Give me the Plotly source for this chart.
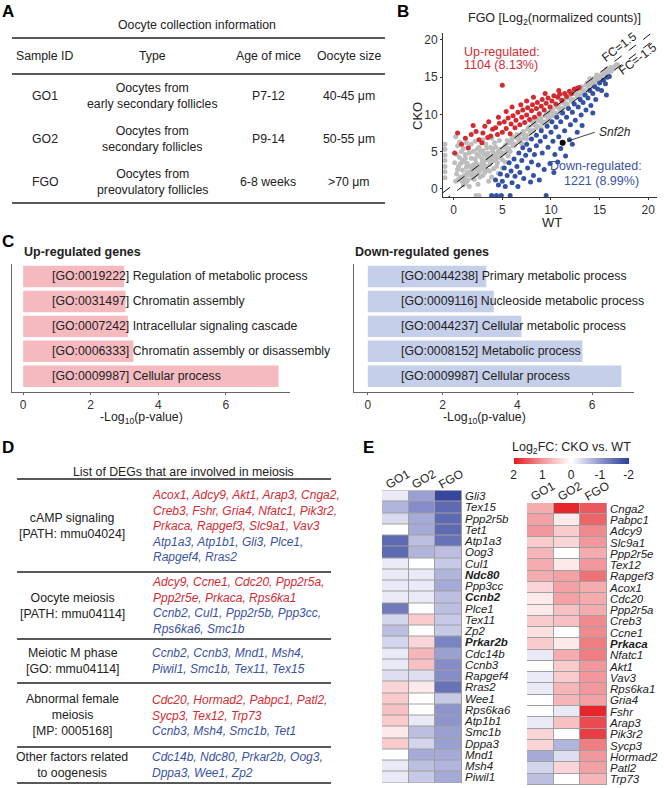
import math

import plotly.graph_objects as go

W, H = 664, 788
FONT = "Liberation Sans, Arial, sans-serif"
INK = "#222222"
RED_TXT = "#D42A32"
BLUE_TXT = "#3A52A2"

# ---------------- Panel A: oocyte collection table
a_header = ["Sample ID", "Type", "Age of mice", "Oocyte size"]
a_sample = ["GO1", "GO2", "FGO"]
a_type = [
    "Oocytes from<br>early secondary follicles",
    "Oocytes from<br>secondary follicles",
    "Oocytes from<br>preovulatory follicles",
]
a_age = ["P7-12", "P9-14", "6-8 weeks"]
a_size = ["40-45 μm", "50-55 μm", ">70 μm"]

# ---------------- Panel B: CKO vs WT scatter (log2 normalized counts)
gray_x = [1.0, 1.3, 1.6, 1.9, 2.2, 2.5, 2.8, 3.1, 3.4, 3.7, 4.0, 4.3, 4.6, 4.9, 5.2, 5.5, 5.8, 6.1,
          6.4, 6.7, 7.0, 7.3, 7.6, 7.9, 8.2, 8.5, 8.8, 9.1, 9.4, 9.7, 10.0, 10.3, 10.6, 10.9, 11.2,
          11.5, 11.8, 12.1, 12.4, 12.7, 13.0, 13.3, 13.6, 13.9, 14.2, 14.5, 14.8, 15.1, 15.4, 15.7,
          16.0, 16.3, 16.6, 16.9,
          0.85, 1.15, 1.45, 1.75, 2.05, 2.35, 2.65, 2.95, 3.25, 3.55, 3.85, 4.15, 4.45, 4.75, 5.05,
          5.35, 5.65, 5.95, 6.25, 6.55, 6.85, 7.15, 7.45, 7.75, 8.05, 8.35, 8.65, 8.95, 9.25, 9.55,
          9.85, 10.15, 10.45, 10.75, 11.05, 11.35, 11.65, 11.95, 12.25, 12.55, 12.85, 13.15, 13.45,
          13.75, 14.05, 14.35, 14.65, 14.95, 15.25, 15.55, 15.85, 16.15, 16.45, 16.75,
          1.2, 2.2, 3.2, 4.2, 5.2, 6.2, 7.2, 8.2, 9.2, 10.2, 11.2, 12.2, 13.2, 14.2, 15.2, 16.2,
          1.7, 2.7, 3.7, 4.7, 5.7, 6.7, 7.7, 8.7, 9.7, 10.7, 11.7, 12.7, 13.7, 14.7, 15.7,
          2.0, 3.0, 4.0, 5.0, 6.0, 7.0, 8.0, 9.0, 10.0, 11.0, 12.0, 13.0, 14.0, 15.0, 6.5, 8.7, 9.6,
          11.7, 12.6, 3.5, 4.5, 5.5, 7.5, 10.5, 13.5, 14.7,
          0.3, 0.5, 0.6, 0.8, 0.9, 1.1, 1.2, 1.4, 1.5, 1.7, 1.8, 2.0, 2.1, 2.3, 2.4, 2.6, 2.7, 2.9,
          3.0, 3.2, 3.3, 3.5, 3.6, 3.8, 4.1, 4.2, 4.4, 4.7, 0.2, 0.7, 1.0, 0.4, 1.3, 2.2, 0.2, 1.6,
          0.1, 5.0, 4.8, 3.9, 2.5,
          0.5, 0.9, 1.1, 1.3, 1.6, 1.9, 2.2, 2.5, 2.8, 3.1, 3.4, 3.7, 4.0, 4.3, 4.6, 0.6, 1.0, 1.4,
          1.8, 2.0, 2.4, 2.9, 3.1, 3.4, 3.8, 4.5, 5.3, 5.6, 0.3, 0.7, 1.2, 2.6, 3.0, 3.9, 0.4, 5.8,
          -0.9, -0.9, -0.9, -0.9, -0.9, -0.9, -0.9, 2.3, 2.6]
gray_y = [1.3, 0.9, 1.9, 1.5, 2.6, 2.1, 3.2, 2.7, 3.9, 3.3, 4.4, 3.9, 5.0, 4.6, 5.6, 5.1, 6.3, 5.8,
          6.9, 6.4, 7.4, 7.0, 8.0, 7.6, 8.6, 8.2, 9.2, 8.8, 9.8, 9.4, 10.4, 10.0, 11.0, 10.6, 11.6,
          11.2, 12.2, 11.8, 12.8, 12.4, 13.4, 13.0, 13.9, 13.6, 14.5, 14.2, 15.0, 14.8, 15.5, 15.4,
          16.0, 16.1, 16.5, 16.6,
          1.0, 1.6, 1.2, 2.3, 1.8, 2.9, 2.4, 3.5, 3.0, 4.1, 3.6, 4.7, 4.2, 5.3, 4.8,
          5.9, 5.4, 6.5, 6.0, 7.1, 6.6, 7.7, 7.2, 8.3, 7.8, 8.9, 8.4, 9.5, 9.0, 10.1,
          9.6, 10.7, 10.2, 11.3, 10.8, 11.9, 11.4, 12.5, 12.0, 13.1, 12.6, 13.7, 13.2,
          14.2, 13.9, 14.8, 14.5, 15.2, 15.1, 15.7, 15.6, 16.3, 16.2, 16.7,
          0.7, 1.9, 2.8, 3.8, 4.8, 5.8, 6.8, 7.8, 8.8, 9.8, 10.8, 11.8, 12.8, 13.8, 14.8, 15.8,
          2.3, 3.2, 4.3, 5.2, 6.2, 7.2, 8.2, 9.2, 10.2, 11.2, 12.2, 13.2, 14.2, 15.1, 16.1,
          3.2, 1.8, 5.3, 3.9, 7.0, 6.1, 9.1, 8.1, 11.0, 10.2, 12.9, 12.3, 14.8, 14.4, 7.3, 9.5, 8.9,
          11.0, 13.3, 2.5, 3.5, 6.5, 6.7, 9.8, 12.9, 15.3,
          2.0, 3.0, 4.2, 5.0, 2.5, 3.6, 4.6, 2.2, 5.4, 3.0, 4.1, 5.0, 1.3, 3.5, 4.6, 5.6, 1.6, 4.0,
          5.1, 2.2, 6.0, 4.8, 1.0, 5.6, 2.7, 6.2, 3.0, 6.5, 1.0, 1.6, 0.5, 5.8, 6.2, 6.4, 7.0, 0.3,
          3.5, 2.8, 4.2, 1.6, 0.6,
          1.3, 3.8, 1.8, 2.9, 4.8, 2.4, 4.0, 3.0, 5.0, 3.6, 4.3, 2.4, 5.0, 5.6, 2.1, 6.3, 5.4, 3.4,
          6.0, 2.9, 5.3, 2.9, 4.6, 5.5, 4.0, 4.8, 3.6, 4.4, 4.6, 3.4, 4.1, 4.4, 6.6, 6.8, 2.6, 5.0,
          1.5, 2.3, 3.0, 3.8, 4.5, 5.3, 6.0, -0.9, -0.9]
up_x = [0.1, 0.4, 1.2, 1.8, 2.3, 2.6, 3.0, 3.2, 3.5, 3.8, 4.0, 4.3, 4.5, 4.7, 5.0, 5.0, 5.2, 5.4,
        5.6, 5.8, 5.9, 6.1, 6.3, 6.4, 6.6, 6.8, 7.0, 7.1, 7.3, 7.5, 7.6, 7.8, 8.0, 8.1, 8.3, 8.5,
        8.6, 8.8, 9.0, 9.1, 9.3, 9.5, 9.7, 9.9, 10.1, 10.3, 10.5, 10.7, 10.9, 11.1, 11.4, 11.6,
        11.9, 12.1, 12.4, 12.7, 12.9, 3.6, 2.0, 6.0, 7.5, 4.6, 9.4, 5.4, 8.2, 6.9, 10.8, 1.5, 2.9,
        0.8]
up_y = [4.8, 7.5, 6.8, 7.3, 7.7, 6.6, 7.5, 8.4, 6.9, 7.1, 8.0, 8.2, 7.3, 8.8, 7.6, 13.9, 9.0, 8.1,
        9.5, 7.4, 8.7, 9.8, 8.2, 9.2, 10.3, 8.6, 9.6, 10.6, 8.9, 9.9, 10.9, 9.3, 10.5, 11.3, 9.6,
        10.8, 11.6, 10.1, 11.1, 12.0, 10.6, 11.5, 12.2, 11.0, 11.8, 12.5, 11.4, 12.3, 12.7, 11.9,
        12.8, 12.4, 13.1, 12.8, 13.4, 13.5, 13.6, 9.0, 8.5, 11.0, 11.8, 9.6, 12.8, 10.4, 12.3, 11.3,
        13.2, 5.5, 6.2, 6.0]
down_x = [3.9, 4.4, 4.9, 5.8, 9.5, 4.3, 4.6, 4.8, 5.0, 5.2, 5.3, 5.5, 5.7, 5.9, 6.0, 6.2, 6.3, 6.5,
          6.7, 6.8, 7.0, 7.1, 7.2, 7.4, 7.5, 7.6, 7.8, 8.0, 8.0, 8.2, 8.3, 8.5, 8.5, 8.7, 8.9, 9.0,
          9.1, 9.3, 9.4, 9.6, 9.7, 9.9, 10.0, 10.1, 10.2, 10.4, 10.5, 10.6, 10.8, 11.0, 11.0, 11.2,
          11.4, 11.6, 11.8, 11.9, 12.0, 12.2, 12.4, 12.5, 12.7, 12.8, 13.0, 13.1, 13.3, 13.5, 13.6,
          13.8, 14.0, 14.1, 14.3, 14.5, 14.6, 14.8, 15.0, 15.2, 15.4, 15.6, 15.8, 16.0, 13.2, 12.2,
          11.5, 10.7, 6.6, 7.9, 14.3, 15.7, 10.3, 8.8]
down_y = [-0.9, -0.9, -0.9, -0.9, -0.9, 1.2, 0.5, 2.0, 1.0, 2.8, 0.3, 1.8, 3.5, 2.4, 0.8, 4.0, 1.7,
          3.0, 4.8, 2.2, 3.8, 5.5, 1.4, 4.5, 6.0, 2.8, 5.2, 6.7, 3.6, 1.8, 4.6, 7.2, 5.8, 3.2, 6.4,
          7.8, 4.8, 2.6, 7.0, 8.4, 5.6, 3.4, 7.6, 9.0, 6.4, 4.6, 8.3, 9.6, 7.0, 5.4, 9.0, 10.2, 7.8,
          9.6, 10.8, 6.6, 8.6, 10.3, 11.4, 9.2, 7.6, 11.0, 12.0, 9.9, 11.6, 12.6, 10.6, 12.2, 13.2,
          11.2, 12.8, 13.7, 12.0, 13.4, 14.2, 13.2, 14.6, 14.1, 15.0, 15.1, 8.5, 6.0, 4.4, 3.6, 0.3,
          0.9, 10.2, 12.6, 2.2, 1.2]
snf2h_x, snf2h_y = [11.2], [6.2]
fc_cut = 1.5
b_ticks = [0, 5, 10, 15, 20]

# ---------------- Panel C: GO enrichment
c_up_terms = [
    "[GO:0019222] Regulation of metabolic process",
    "[GO:0031497] Chromatin assembly",
    "[GO:0007242] Intracellular signaling cascade",
    "[GO:0006333] Chromatin assembly or disassembly",
    "[GO:0009987] Cellular process",
]
c_up_vals = [2.99, 3.03, 3.10, 3.26, 7.56]
c_down_terms = [
    "[GO:0044238] Primary metabolic process",
    "[GO:0009116] Nucleoside metabolic process",
    "[GO:0044237] Cellular metabolic process",
    "[GO:0008152] Metabolic process",
    "[GO:0009987] Cellular process",
]
c_down_vals = [3.17, 3.37, 4.11, 5.74, 6.78]
c_ticks = [0, 2, 4, 6]

# ---------------- Panel D: DEGs involved in meiosis
d_terms = [
    "cAMP signaling<br>[PATH: mmu04024]",
    "Oocyte meiosis<br>[PATH: mmu04114]",
    "Meiotic M phase<br>[GO: mmu04114]",
    "Abnormal female<br>meiosis<br>[MP: 0005168]",
    "Other factors related<br>to oogenesis",
]
d_up_genes = [
    ["Acox1, Adcy9, Akt1, Arap3, Cnga2,", "Creb3, Fshr, Gria4, Nfatc1, Pik3r2,",
     "Prkaca, Rapgef3, Slc9a1, Vav3"],
    ["Adcy9, Ccne1, Cdc20, Ppp2r5a,", "Ppp2r5e, Prkaca, Rps6ka1"],
    [],
    ["Cdc20, Hormad2, Pabpc1, Patl2,", "Sycp3, Tex12, Trp73"],
    [],
]
d_down_genes = [
    ["Atp1a3, Atp1b1, Gli3, Plce1,", "Rapgef4, Rras2"],
    ["Ccnb2, Cul1, Ppp2r5b, Ppp3cc,", "Rps6ka6, Smc1b"],
    ["Ccnb2, Ccnb3, Mnd1, Msh4,", "Piwil1, Smc1b, Tex11, Tex15"],
    ["Ccnb3, Msh4, Smc1b, Tet1"],
    ["Cdc14b, Ndc80, Prkar2b, Oog3,", "Dppa3, Wee1, Zp2"],
]

# ---------------- Panel E: log2FC heatmaps
e_cols = ["GO1", "GO2", "FGO"]
e_bold = {"Ndc80", "Ccnb2", "Prkar2b", "Prkaca"}
e_down_genes = ["Gli3", "Tex15", "Ppp2r5b", "Tet1", "Atp1a3", "Oog3", "Cul1", "Ndc80", "Ppp3cc",
                "Ccnb2", "Plce1", "Tex11", "Zp2", "Prkar2b", "Cdc14b", "Ccnb3", "Rapgef4", "Rras2",
                "Wee1", "Rps6ka6", "Atp1b1", "Smc1b", "Dppa3", "Mnd1", "Msh4", "Piwil1"]
e_down_go1 = [-0.2, -0.7, -0.35, 0.0, -1.5, -1.5, -0.2, -0.2, -0.2, -0.2, -1.3, -0.4, -0.6, -0.4,
              -0.2, -0.2, -0.3, 0.4, 0.5, 0.6, 0.5, 0.2, 0.5, 0.0, -0.2, -0.2]
e_down_go2 = [-0.9, -1.1, -0.8, -0.8, -0.6, -0.7, 0.0, -0.2, -0.2, -0.2, 0.0, 0.5, 0.0, 0.4, 0.7,
              0.6, -0.3, 0.2, 0.0, 0.0, -0.2, -0.6, -0.4, -0.8, -0.6, -0.5]
e_down_fgo = [-1.9, -1.5, -1.5, -1.5, -1.4, -0.6, -0.5, -0.7, -0.8, -0.6, -0.6, -0.5, -0.5, -1.2,
              -0.9, -1.1, -1.1, -1.4, -0.5, -1.0, -1.0, -0.9, -0.9, -0.8, -0.7, -0.8]
e_up_genes = ["Cnga2", "Pabpc1", "Adcy9", "Slc9a1", "Ppp2r5e", "Tex12", "Rapgef3", "Acox1", "Cdc20",
              "Ppp2r5a", "Creb3", "Ccne1", "Prkaca", "Nfatc1", "Akt1", "Vav3", "Rps6ka1", "Gria4",
              "Fshr", "Arap3", "Pik3r2", "Sycp3", "Hormad2", "Patl2", "Trp73"]
e_up_go1 = [0.8, 0.9, 1.0, 0.5, 0.7, 0.8, 0.8, 0.4, 0.2, 0.2, 0.5, 0.3, 0.5, -0.2, 0.0, -0.2, -0.2,
            0.0, 0.0, -0.2, 0.4, 0.4, -0.8, -0.4, -0.6]
e_up_go2 = [1.9, 0.2, 0.5, 0.4, 0.0, 0.2, 0.9, 0.9, 0.9, 0.6, 0.6, 0.0, 0.2, 0.8, 0.5, 0.5, 0.7, 0.7,
            -0.2, 0.6, 0.0, -0.7, -0.3, 0.4, 0.0]
e_up_fgo = [1.5, 1.4, 1.1, 1.0, 0.8, 1.0, 1.3, 0.8, 0.8, 0.8, 1.1, 1.1, 1.2, 1.2, 1.0, 1.0, 1.0, 0.9,
            1.9, 1.6, 1.7, 1.2, 1.0, 0.9, 0.7]
cb_ticks = [2, 1, 0, -1, -2]


def px(x):
    return x / W


def py(y):
    return 1 - y / H


annotations = []
shapes = []


def label(text, x, y, size=12, color=INK, xanchor="center", yanchor="middle", **kw):
    annotations.append(dict(text=text, x=px(x), y=py(y), xref="paper", yref="paper",
                            showarrow=False, xanchor=xanchor, yanchor=yanchor,
                            font=dict(family=FONT, size=size, color=color), **kw))


def hline(y, x0, x1, width=1.5):
    shapes.append(dict(type="line", xref="paper", yref="paper", x0=px(x0), x1=px(x1),
                       y0=py(y), y1=py(y), line=dict(color=INK, width=width)))


fig = go.Figure()

# panel letters
for letter, lx, ly in [("A", 0, 11), ("B", 395, 11), ("C", 0, 241), ("D", 0, 447), ("E", 361, 447)]:
    label(f"<b>{letter}</b>", lx, ly, size=17, color="#000", xanchor="left")

# ---- A
label("Oocyte collection information", 197, 25, size=12.3)
for y in (38, 74, 203):
    hline(y, 12, 385)
a_cols = [45, 152, 268, 349]
for cx, h in zip(a_cols, a_header):
    label(h, cx, 56, size=12.3)
for i, ry in enumerate([96, 139, 182]):
    for cx, txt in zip(a_cols, [a_sample[i], a_type[i], a_age[i], a_size[i]]):
        label(txt, cx, ry, size=12.3)

# ---- B
fig.add_trace(go.Scatter(x=gray_x, y=gray_y, mode="markers", xaxis="x", yaxis="y",
                         marker=dict(color="#BDBDBD", size=5), hoverinfo="skip"))
fig.add_trace(go.Scatter(x=up_x, y=up_y, mode="markers", xaxis="x", yaxis="y",
                         marker=dict(color="#D42A2F", size=5), name="Up"))
fig.add_trace(go.Scatter(x=down_x, y=down_y, mode="markers", xaxis="x", yaxis="y",
                         marker=dict(color="#3551A4", size=5), name="Down"))
shift = math.log2(fc_cut)
for sgn in (1, -1):
    fig.add_trace(go.Scatter(x=[-1.1, 21], y=[-1.1 + sgn * shift, 21 + sgn * shift],
                             mode="lines", xaxis="x", yaxis="y", hoverinfo="skip",
                             line=dict(color="#111", width=1, dash="dash")))
fig.add_trace(go.Scatter(x=snf2h_x, y=snf2h_y, mode="markers", xaxis="x", yaxis="y",
                         marker=dict(color="#000", size=6), name="Snf2h"))

label("FGO [Log<sub>2</sub>(normalized counts)]", 554, 19, size=12.5)
label("WT", 552, 222, size=13)
label("CKO", 417, 116, size=13, textangle=-90)


def dlabel(text, x, y, size=12, color=INK, xanchor="center", **kw):
    annotations.append(dict(text=text, x=x, y=y, xref="x", yref="y", showarrow=False,
                            xanchor=xanchor, yanchor="middle",
                            font=dict(family=FONT, size=size, color=color), **kw))


dlabel("Up-regulated:", 0.9, 18.4, color=RED_TXT, xanchor="left", size=12.5)
dlabel("1104 (8.13%)", 0.9, 16.6, color=RED_TXT, xanchor="left", size=12.5)
dlabel("Down-regulated:", 19.6, 3.0, color=BLUE_TXT, xanchor="right", size=12.5)
dlabel("1221 (8.99%)", 19.3, 1.0, color=BLUE_TXT, xanchor="right", size=12.5)
dlabel("FC=1.5", 17.0, 19.1, textangle=-37, size=12)
dlabel("FC=-1.5", 18.9, 17.4, textangle=-37, size=12)
dlabel("<i>Snf2h</i>", 14.7, 7.7, xanchor="left", size=12)
shapes.append(dict(type="line", xref="x", yref="y", x0=11.7, y0=6.4, x1=14.5, y1=7.6,
                   line=dict(color="#111", width=0.8)))

# ---- C
c_bar_pos = list(range(len(c_up_terms)))
fig.add_trace(go.Bar(x=c_up_vals, y=c_bar_pos, orientation="h", xaxis="x2", yaxis="y2",
                     width=0.86, marker=dict(color="#F5BAC0", line=dict(width=0))))
fig.add_trace(go.Bar(x=c_down_vals, y=c_bar_pos, orientation="h", xaxis="x3", yaxis="y3",
                     width=0.86, marker=dict(color="#C6CFE9", line=dict(width=0))))
for ax, terms, x0 in [("2", c_up_terms, 0.8), ("3", c_down_terms, 0.83)]:
    for i, t in enumerate(terms):
        annotations.append(dict(text=t, x=x0, y=i, xref="x" + ax, yref="y" + ax, showarrow=False,
                                xanchor="left", yanchor="middle",
                                font=dict(family=FONT, size=12.3, color=INK)))
label("<b>Up-regulated genes</b>", 22, 252, size=12.5, xanchor="left")
label("<b>Down-regulated genes</b>", 353, 252, size=12.5, xanchor="left")
label("-Log<sub>10</sub>(p-value)", 141, 418, size=12.3)
label("-Log<sub>10</sub>(p-value)", 484, 418, size=12.3)

# ---- D
label("List of DEGs that are involved in meiosis", 183, 472, size=12.3)
d_bounds = [479, 572, 639, 683, 747, 783]
for y in d_bounds:
    hline(y, 17, 331)
for i, term in enumerate(d_terms):
    mid = (d_bounds[i] + d_bounds[i + 1]) / 2
    label(term, 72, mid, size=12.3)
    lines = [f"<span style='color:{RED_TXT}'><i>{g}</i></span>" for g in d_up_genes[i]]
    lines += [f"<span style='color:{BLUE_TXT}'><i>{g}</i></span>" for g in d_down_genes[i]]
    label("<br>".join(lines), 150, mid, xanchor="left", align="left")

# ---- E
cscale = [[0.0, "#E3191F"], [0.25, "#F2979B"], [0.5, "#FFFFFF"], [0.75, "#8F95CC"],
          [1.0, "#2C3E98"]]


def gene_label(g):
    return f"<b><i>{g}</i></b>" if g in e_bold else f"<i>{g}</i>"


for ax, genes, cols in [("4", e_down_genes, (e_down_go1, e_down_go2, e_down_fgo)),
                        ("5", e_up_genes, (e_up_go1, e_up_go2, e_up_fgo))]:
    z = [[-v for v in row] for row in zip(*cols)]  # sign flipped so the bar reads 2 → -2
    fig.add_trace(go.Heatmap(z=z, x=[0, 1, 2], y=list(range(len(genes))), xaxis="x" + ax,
                             yaxis="y" + ax, coloraxis="coloraxis", xgap=1, ygap=1,
                             customdata=[list(r) for r in zip(*cols)],
                             hovertemplate="%{customdata}<extra></extra>"))
    shapes.append(dict(type="rect", xref="x" + ax, yref="y" + ax, x0=-0.5, x1=2.5, y0=-0.5,
                       y1=len(genes) - 0.5, fillcolor="#A0A0A0", layer="below",
                       line=dict(color="#A0A0A0", width=1)))

for centers, ly in [((398, 424, 451), 479), ((543, 570, 597), 491)]:
    for cx, name in zip(centers, e_cols):
        label(name, cx, ly, size=12, textangle=-30)
label("Log<sub>2</sub>FC: CKO vs. WT", 571, 448, size=12.5)

axis_common = dict(showgrid=False, zeroline=False, automargin=False)
b_axis = dict(axis_common, showline=True, linecolor="#333", linewidth=1, ticks="outside",
              ticklen=2, tickcolor="#333", tickvals=b_ticks,
              tickfont=dict(family=FONT, size=12, color="#333"))
c_xaxis = dict(axis_common, showline=True, linecolor="#666", linewidth=1, ticks="outside",
               ticklen=2, tickcolor="#666", tickvals=c_ticks,
               tickfont=dict(family=FONT, size=12, color="#333"))
c_yaxis = dict(axis_common, showline=True, linecolor="#666", linewidth=1,
               showticklabels=False, ticks="", range=[4.63, -0.5])
hm_x = dict(axis_common, visible=False, range=[-0.5, 2.5])


def hm_y(genes):
    return dict(axis_common, side="right", range=[len(genes) - 0.5, -0.5], ticks="",
                tickvals=list(range(len(genes))), ticktext=[gene_label(g) for g in genes],
                tickfont=dict(family=FONT, size=11.5, color=INK), ticklabelstandoff=2)


fig.update_layout(
    width=W, height=H, margin=dict(l=0, r=0, t=0, b=0, autoexpand=False), autosize=False,
    paper_bgcolor="white", plot_bgcolor="white", showlegend=False,
    font=dict(family=FONT, color=INK),
    xaxis=dict(b_axis, domain=[px(443), px(657)], range=[-1.1, 20.9], anchor="y"),
    yaxis=dict(b_axis, domain=[py(197), py(32.5)], range=[-1.1, 21], anchor="x"),
    xaxis2=dict(c_xaxis, domain=[px(12), px(290)], range=[-0.33, 7.9], anchor="y2"),
    yaxis2=dict(c_yaxis, domain=[py(392), py(264)], anchor="x2"),
    xaxis3=dict(c_xaxis, domain=[px(354), px(634)], range=[-0.37, 7.12], anchor="y3"),
    yaxis3=dict(c_yaxis, domain=[py(392), py(264)], anchor="x3"),
    xaxis4=dict(hm_x, domain=[px(382), px(462)], anchor="y4"),
    yaxis4=dict(hm_y(e_down_genes), domain=[py(783), py(490.5)], anchor="x4"),
    xaxis5=dict(hm_x, domain=[px(527), px(607)], anchor="y5"),
    yaxis5=dict(hm_y(e_up_genes), domain=[py(785), py(503)], anchor="x5"),
    coloraxis=dict(cmin=-2, cmax=2, colorscale=cscale,
                   colorbar=dict(orientation="h", x=px(571), xanchor="center", y=py(457.5),
                                 yanchor="top", len=115, lenmode="pixels", thickness=6,
                                 outlinewidth=0, xpad=0, ypad=0, ticks="",
                                 tickvals=[-v for v in cb_ticks],
                                 ticktext=[str(v) for v in cb_ticks],
                                 tickfont=dict(family=FONT, size=12, color=INK))),
    annotations=annotations,
    shapes=shapes,
)

# the page body's default 8px margin would push the figure off the window
fig.write_html("out.html", config={"displayModeBar": False},
               post_script="document.body.style.margin='0';")
